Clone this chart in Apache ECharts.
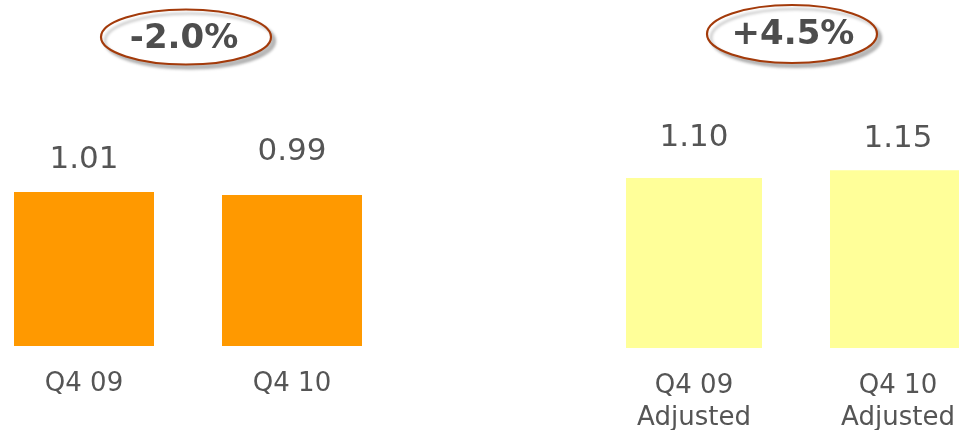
<!DOCTYPE html>
<html>
<head>
<meta charset="utf-8">
<script src="https://cdn.jsdelivr.net/npm/echarts@6/dist/echarts.min.js"></script>
<style>
html,body{margin:0;padding:0;background:#fff;}
#c{width:959px;height:430px;}
</style>
</head>
<body>
<div id="c"></div>
<script>
// ---- data ----
var reportedCategories = ['Q4 09', 'Q4 10'];
var reportedValues = [1.01, 0.99];
var adjustedCategories = ['Q4 09\nAdjusted', 'Q4 10\nAdjusted'];
var adjustedValues = [1.10, 1.15];
var changeLabels = ['-2.0%', '+4.5%'];

// ---- styling ----
var TEXT = '#555555';
var FONT = 'DejaVu Sans, Verdana, sans-serif';
var reportedLabelGaps = [17, 28];
var adjustedLabelGaps = [24, 16];

function mkData(vals, gaps) {
  return vals.map(function (v, i) {
    return { value: v, label: { distance: gaps[i] } };
  });
}

var chart = echarts.init(document.getElementById('c'));
var catAxisBase = {
  type: 'category',
  axisLine: { show: false },
  axisTick: { show: false },
  axisLabel: { color: TEXT, fontFamily: FONT, fontSize: 26, lineHeight: 32, margin: 22 }
};
var valAxisBase = { type: 'value', min: 0, show: false, splitLine: { show: false } };
var labelBase = {
  show: true, position: 'top', color: TEXT, fontFamily: FONT, fontSize: 31,
  formatter: function (p) { return p.value.toFixed(2); }
};

chart.setOption({
  animation: false,
  backgroundColor: '#ffffff',
  grid: [
    { left: -20, width: 416, top: 0, bottom: 84, containLabel: false, outerBoundsMode: 'none' },
    { left: 592, width: 408, top: 0, bottom: 82, containLabel: false, outerBoundsMode: 'none' }
  ],
  xAxis: [
    Object.assign({}, catAxisBase, { gridIndex: 0, data: reportedCategories }),
    Object.assign({}, catAxisBase, { gridIndex: 1, data: adjustedCategories })
  ],
  yAxis: [
    Object.assign({}, valAxisBase, { gridIndex: 0, max: 2.269 }),
    Object.assign({}, valAxisBase, { gridIndex: 1, max: 2.251 })
  ],
  series: [
    {
      type: 'bar', xAxisIndex: 0, yAxisIndex: 0, barWidth: 140,
      itemStyle: { color: '#FF9900' },
      label: labelBase,
      data: mkData(reportedValues, reportedLabelGaps)
    },
    {
      type: 'bar', xAxisIndex: 1, yAxisIndex: 1, barWidth: 136,
      itemStyle: { color: '#FFFF99' },
      label: labelBase,
      data: mkData(adjustedValues, adjustedLabelGaps)
    }
  ],
  graphic: [
    {
      type: 'ellipse', shape: { cx: 186, cy: 37, rx: 85, ry: 27.5 },
      style: { fill: '#fff', stroke: '#A33A0A', lineWidth: 2.2,
        shadowColor: 'rgba(0,0,0,0.25)', shadowBlur: 3, shadowOffsetX: 4, shadowOffsetY: 4 }
    },
    {
      type: 'text', x: 184, y: 39,
      style: { text: changeLabels[0], fill: '#4d4d4d', font: 'bold 34px ' + FONT, align: 'center', verticalAlign: 'middle' }
    },
    {
      type: 'ellipse', shape: { cx: 792, cy: 34, rx: 85, ry: 29 },
      style: { fill: '#fff', stroke: '#A33A0A', lineWidth: 2.2,
        shadowColor: 'rgba(0,0,0,0.25)', shadowBlur: 3, shadowOffsetX: 4, shadowOffsetY: 4 }
    },
    {
      type: 'text', x: 793, y: 35,
      style: { text: changeLabels[1], fill: '#4d4d4d', font: 'bold 34px ' + FONT, align: 'center', verticalAlign: 'middle' }
    }
  ]
});
</script>
</body>
</html>
